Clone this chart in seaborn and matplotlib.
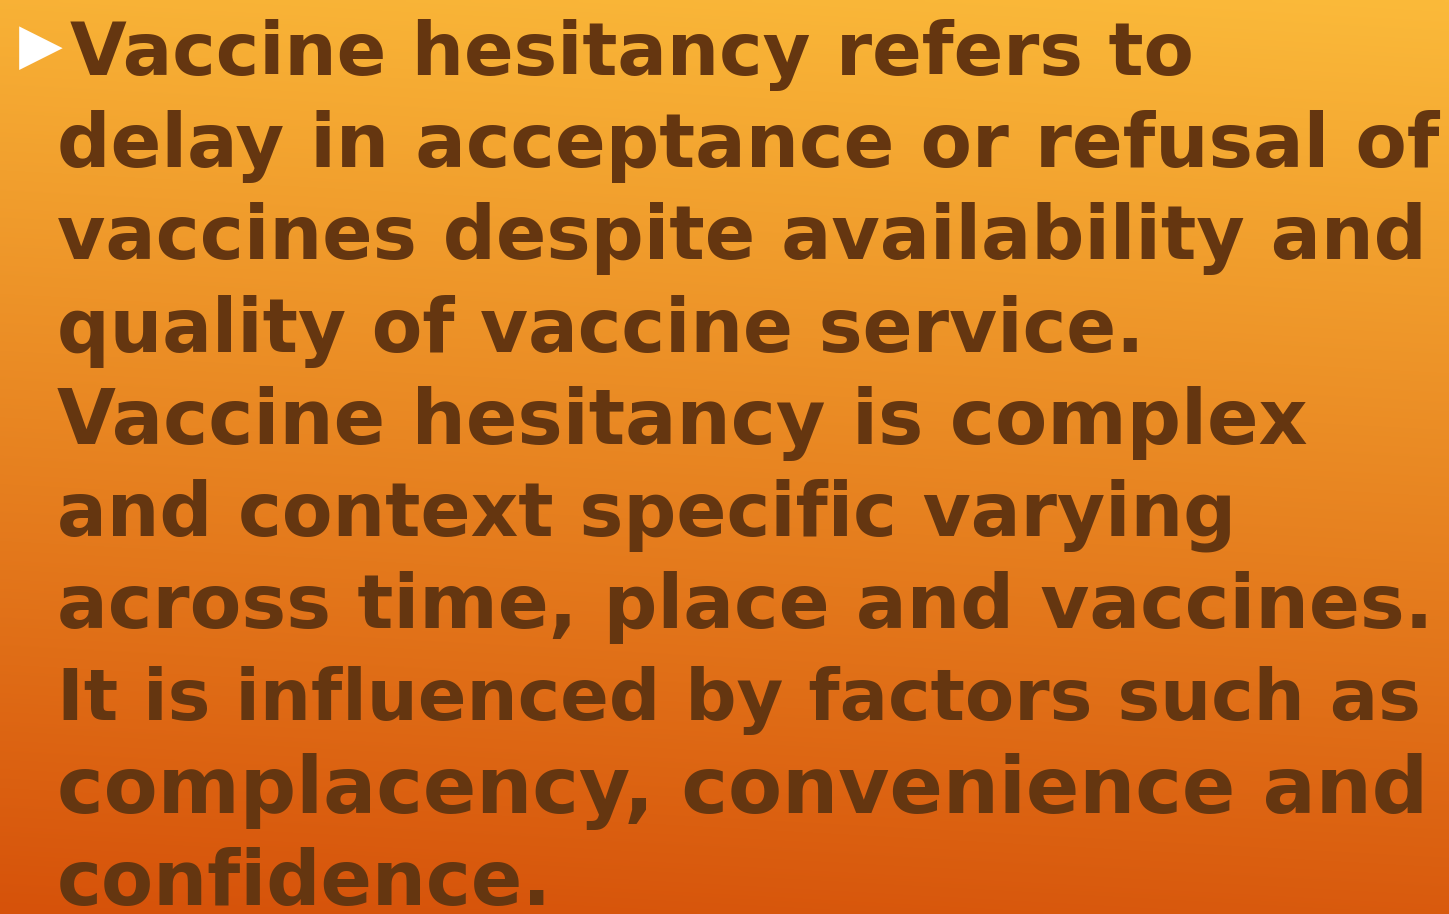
import numpy as np
import matplotlib
matplotlib.use("Agg")
import matplotlib.pyplot as plt
import seaborn as sns

sns.set_theme(style="white")
plt.rcParams['font.family'] = ['DejaVu Sans']

lines = [
    "Vaccine hesitancy refers to",
    "delay in acceptance or refusal of",
    "vaccines despite availability and",
    "quality of vaccine service.",
    "Vaccine hesitancy is complex",
    "and context specific varying",
    "across time, place and vaccines.",
    "It is influenced by factors such as",
    "complacency, convenience and",
    "confidence.",
]
bullet = "\u25B6"
text_color = "#653610"
top_color = np.array([251, 186, 58]) / 255.0
bottom_color = np.array([214, 82, 10]) / 255.0

# layout: left/right pixel edges of each line in the reference
line_left = [70, 57, 57, 57, 57, 57, 57, 57, 57, 57]
line_right = [1197, 1440, 1428, 1145, 1310, 1238, 1435, 1422, 1430, 553]

W, H = 1449, 914
fig = plt.figure(figsize=(W / 100, H / 100), dpi=100)
ax = fig.add_axes([0, 0, 1, 1])
ax.set_xlim(0, W)
ax.set_ylim(H, 0)
ax.axis("off")

yy, xx = np.mgrid[0:1:200j, 0:1:200j]
t = np.clip(yy * 0.92 + (1 - xx) * 0.08, 0, 1)
grad = top_color[None, None, :] * (1 - t[..., None]) + bottom_color[None, None, :] * t[..., None]
ax.imshow(grad, extent=[0, W, H, 0], aspect="auto", interpolation="bilinear", zorder=0)

renderer = fig.canvas.get_renderer()
base0 = 75
step = 92.2
for i, s in enumerate(lines):
    probe = ax.text(0, 0, s, fontsize=60, fontweight="bold")
    wpx = probe.get_window_extent(renderer).width
    probe.remove()
    fs = 60 * ((line_right[i] - line_left[i]) / wpx)
    ax.text(line_left[i], base0 + i * step, s, fontsize=fs, fontweight="bold",
            color=text_color, va="baseline", ha="left", zorder=2)

ax.text(19, 63, bullet, fontsize=41, color="white", va="baseline", ha="left", zorder=2)

fig.savefig("out.png", dpi=100)
